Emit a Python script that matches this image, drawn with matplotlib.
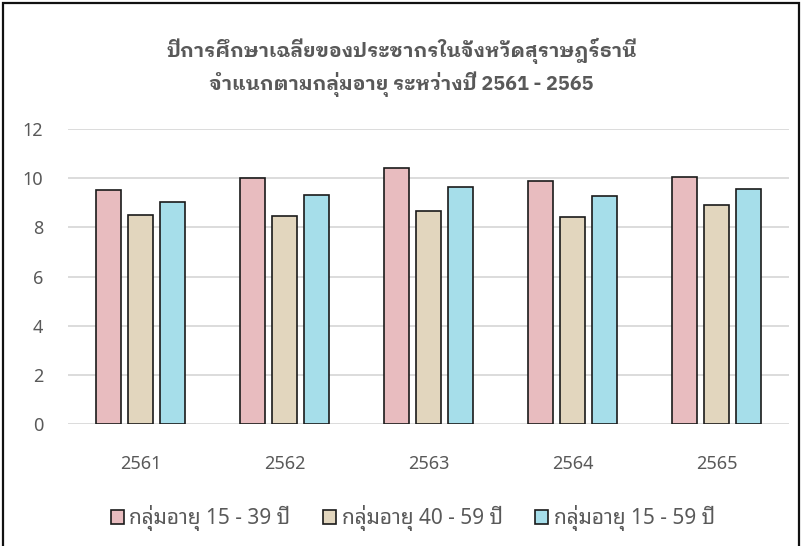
import numpy as np
import matplotlib
matplotlib.use("Agg")
import matplotlib.pyplot as plt
from matplotlib.patches import Rectangle

plt.rcParams['font.family'] = ['Noto Sans Thai Looped', 'Noto Sans', 'DejaVu Sans']

years = ['2561', '2562', '2563', '2564', '2565']
age_15_39 = [9.5, 10.0, 10.4, 9.9, 10.05]
age_40_59 = [8.5, 8.47, 8.66, 8.43, 8.9]
age_15_59 = [9.05, 9.33, 9.64, 9.28, 9.56]
labels = ['กลุ่มอายุ 15 - 39 ปี', 'กลุ่มอายุ 40 - 59 ปี', 'กลุ่มอายุ 15 - 59 ปี']
colors = ['#E8BCBF', '#E2D6BE', '#A6DEEA']
title = 'ปีการศึกษาเฉลี่ยของประชากรในจังหวัดสุราษฎร์ธานี\nจำแนกตามกลุ่มอายุ ระหว่างปี 2561 - 2565'

grey = '#595959'
fig = plt.figure(figsize=(8.03, 5.46), dpi=100)
ax = fig.add_axes([0.0853, 0.2234, 0.8967, 0.5403])

index = np.arange(len(years))
bar_width = 0.174
step = 0.222
for i, (vals, c, lab) in enumerate(zip([age_15_39, age_40_59, age_15_59], colors, labels)):
    ax.bar(index + (i - 1) * step, vals, bar_width, color=c,
           edgecolor='#1a1a1a', linewidth=1.2, label=lab, zorder=3)

ax.set_xlim(-0.5, len(years) - 0.5)
ax.set_ylim(0, 12)
ax.set_yticks(range(0, 13, 2))
ax.set_xticks(index)
ax.set_xticklabels(years)
ax.yaxis.grid(True, color='#D9D9D9', linewidth=1.3, zorder=0)
for s in ax.spines.values():
    s.set_visible(False)
ax.tick_params(length=0, colors=grey, labelsize=13)
ax.tick_params(axis='y', pad=18)
ax.tick_params(axis='x', pad=22)

fig.text(0.5, 0.876, title, ha='center', va='center', fontsize=14.2,
         fontweight='bold', color=grey, linespacing=1.38,
         family=['IBM Plex Sans Thai Looped', 'Noto Sans', 'DejaVu Sans'])

ax.legend(loc='center', bbox_to_anchor=(0.478, -0.319), ncol=3, frameon=False,
          fontsize=15, labelcolor=grey, handlelength=0.65, handleheight=0.65,
          handletextpad=0.25, columnspacing=1.55)

fig.patches.append(Rectangle((0.004, -0.05), 0.991, 1.045, transform=fig.transFigure,
                             fill=False, edgecolor='#111111', linewidth=1.6))

fig.savefig('out.png', dpi=100)
